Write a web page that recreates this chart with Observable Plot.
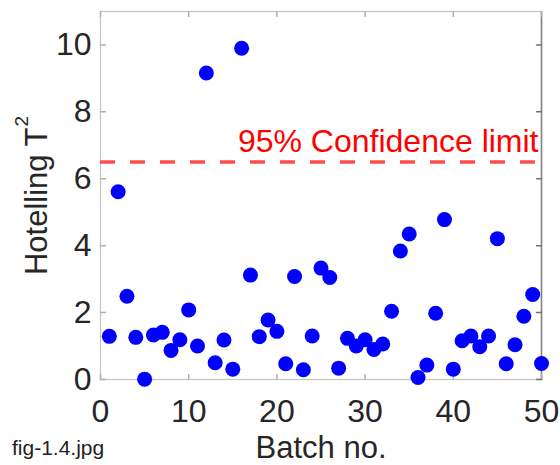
<!DOCTYPE html>
<html>
<head>
<meta charset="utf-8">
<script src="https://cdn.jsdelivr.net/npm/d3@7"></script>
<script src="https://cdn.jsdelivr.net/npm/@observablehq/plot@0.6"></script>
<style>
  html, body { margin: 0; padding: 0; background: #fff; }
  #wrap { position: relative; width: 560px; height: 465px; overflow: hidden; }
  #caption { position: absolute; left: 12px; top: 437px; line-height: 1; font: 21px/1 "Liberation Sans", Arial, Helvetica, sans-serif; color: #222; }
</style>
</head>
<body>
<div id="wrap"><div id="caption">fig-1.4.jpg</div></div>
<script>
const batch = d3.range(1, 51);
const t2 = [
  1.29, 5.61, 2.49, 1.26, 0.01, 1.33, 1.41, 0.87, 1.19, 2.08,
  1.00, 9.16, 0.50, 1.18, 0.31, 9.90, 3.12, 1.28, 1.78, 1.44,
  0.47, 3.08, 0.29, 1.30, 3.33, 3.05, 0.34, 1.23, 1.00, 1.19,
  0.90, 1.06, 2.04, 3.84, 4.35, 0.06, 0.43, 1.98, 4.78, 0.31,
  1.16, 1.30, 0.98, 1.30, 4.21, 0.47, 1.04, 1.89, 2.54, 0.48
];
const limit = 6.5;
const limitLabel = "95% Confidence limit";
const xTicks = [0, 10, 20, 30, 40, 50];
const yTicks = [0, 2, 4, 6, 8, 10];
const xLabel = "Batch no.";
const yLabel = "Hotelling T";
const yLabelSup = "2";

const data = batch.map((b, i) => ({batch: b, t2: t2[i]}));
const tickShape = {draw(ctx, l) { ctx.moveTo(0, 0); ctx.lineTo(0, -l); }};
const font = '"Liberation Sans", Arial, Helvetica, sans-serif';

const chart = Plot.plot({
  width: 560,
  height: 465,
  marginLeft: 100,
  marginRight: 19,
  marginTop: 11,
  marginBottom: 86,
  style: {fontFamily: font, background: "white", color: "#262626"},
  x: {domain: [0, 50], ticks: xTicks},
  y: {domain: [0, 11], ticks: yTicks},
  marks: [
    Plot.axisX(xTicks, {tickSize: 0, tickPadding: 20, fontSize: 32, label: null, color: "#262626"}),
    Plot.axisY(yTicks, {tickSize: 0, tickPadding: 9, fontSize: 32, label: null, color: "#262626"}),
    Plot.frame({stroke: "#c4c4c4", strokeWidth: 1.2}),
    Plot.ruleX([50], {stroke: "#858585", strokeWidth: 1.6}),
    Plot.vector(xTicks, {x: d => d, frameAnchor: "bottom", anchor: "start", rotate: 0, length: 5, shape: tickShape, stroke: "#b0b0b0"}),
    Plot.vector(xTicks, {x: d => d, frameAnchor: "top", anchor: "start", rotate: 180, length: 5, shape: tickShape, stroke: "#b0b0b0"}),
    Plot.vector(yTicks, {y: d => d, frameAnchor: "left", anchor: "start", rotate: 90, length: 5, shape: tickShape, stroke: "#b0b0b0"}),
    Plot.vector(yTicks, {y: d => d, frameAnchor: "right", anchor: "start", rotate: 270, length: 5, shape: tickShape, stroke: "#707070"}),
    Plot.ruleY([limit], {stroke: "#ff4d4d", strokeWidth: 3.5, strokeDasharray: "15,15"}),
    Plot.text([limitLabel], {x: 50, y: limit, text: d => d, textAnchor: "end", lineAnchor: "bottom", dy: -10, dx: -3, fontSize: 32, fill: "#ff0000"}),
    Plot.dot(data, {x: "batch", y: "t2", r: 7.5, fill: "#0000ff", stroke: null}),
    Plot.text([xLabel], {frameAnchor: "bottom", text: d => d, textAnchor: "middle", lineAnchor: "bottom", dy: 78, fontSize: 31, fill: "#262626"}),
    Plot.text([yLabel], {frameAnchor: "left", text: d => d, rotate: -90, textAnchor: "middle", lineAnchor: "bottom", dx: -54, fontSize: 31, fill: "#262626"})
  ]
});
// add the TeX-style superscript to the y label
d3.select(chart).selectAll("text").filter(function() { return this.textContent === yLabel; })
  .append("tspan").attr("font-size", 19).attr("dy", -19).attr("dx", 1).text(yLabelSup);
document.getElementById("wrap").prepend(chart);
</script>
</body>
</html>
